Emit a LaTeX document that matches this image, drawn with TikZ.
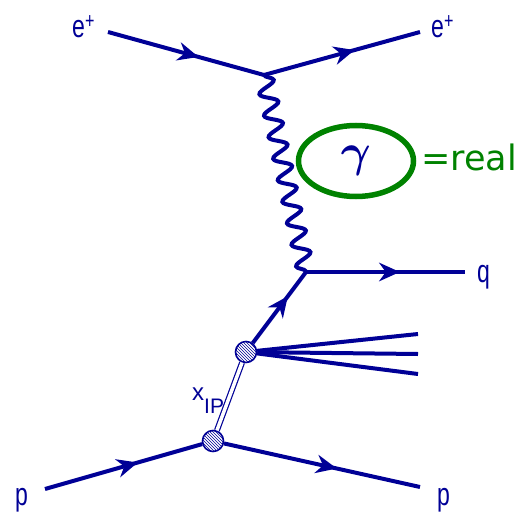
\documentclass[tikz,border=0pt]{standalone}
\usepackage{fontspec}
\setmainfont{Liberation Sans}
\newfontfamily\labelfont[FakeStretch=0.72]{Liberation Sans}
\newfontfamily\realfont{DejaVu Sans}
\usetikzlibrary{arrows.meta,decorations.markings,decorations.pathmorphing,patterns,shapes.geometric}
\definecolor{feyn}{RGB}{0,0,150}
\definecolor{realgreen}{RGB}{0,130,0}

\begin{document}
\begin{tikzpicture}[
  x=1pt,y=-1pt,
  fermion/.style={draw=feyn,line width=4pt,postaction={decorate,decoration={markings,mark=at position #1 with {\arrow[feyn]{Stealth[length=21pt,width=19pt,inset=7pt,line width=0pt]}}}}},
  fermion/.default=0.58,
  jet/.style={draw=feyn,line width=4pt},
  photon/.style={draw=feyn,line width=4pt,decorate,decoration={snake,amplitude=8.5pt,segment length=22pt}},
  pomeron/.style={draw=feyn,line width=1.2pt,double=white,double distance=3.5pt},
  blob/.style={circle,draw=feyn,line width=1.6pt,minimum size=21pt,inner sep=0pt,preaction={fill=white},pattern=north west lines,pattern color=feyn},
  particle/.style={text=feyn,inner sep=0pt,font=\labelfont\fontsize{32}{32}\selectfont},
  realbox/.style={ellipse,draw=realgreen,line width=5.5pt,minimum width=115pt,minimum height=71pt,inner sep=0pt,text=feyn}
]
\useasboundingbox (0,0) rectangle (529,513);
% vertices and free line ends
\coordinate (ein) at (108,32);
\coordinate (eout) at (420,32);
\coordinate (ev) at (264,75);
\coordinate (qv) at (306,272);
\coordinate (qend) at (465,272);
\coordinate (pin) at (45,489);
\coordinate (pout) at (420,487);
\coordinate (j1) at (418,334);
\coordinate (j2) at (418,354);
\coordinate (j3) at (418,374);
\node[blob] (b1) at (246,352) {};
\node[blob] (b2) at (213,441) {};
% lines
\draw[fermion] (ein) -- (ev);
\draw[fermion] (ev) -- (eout);
\draw[photon] (ev) -- (qv);
\draw[fermion=0.59] (qv) -- (qend);
\draw[fermion=0.66] (b1) -- (qv);
\draw[jet] (b1) -- (j1);
\draw[jet] (b1) -- (j2);
\draw[jet] (b1) -- (j3);
\draw[pomeron] (b1) -- (b2);
\draw[fermion=0.59] (pin) -- (b2);
\draw[fermion=0.575] (b2) -- (pout);
% labels
\node[particle,anchor=base west] (lein) at (72,38) {e\textsuperscript{+}};
\node[particle,anchor=base west] (leout) at (431,38) {e\textsuperscript{+}};
\node[particle,anchor=base west] (lq) at (477,282) {q};
\node[particle,anchor=base west] (lpin) at (15,505) {p};
\node[particle,anchor=base west] (lpout) at (437,505) {p};
\node[text=feyn,inner sep=0pt,anchor=base west,font=\fontsize{24}{24}\selectfont] (lx) at (192,400) {x\raisebox{-13pt}{\fontsize{21}{21}\selectfont IP}};
\node[realbox] (gam) at (356,161) {\scalebox{4.6}{\boldmath$\gamma$}};
\node[text=realgreen,inner sep=0pt,anchor=base west,font=\realfont\fontsize{35}{35}\selectfont] (lreal) at (421,170) {=real};
\end{tikzpicture}
\end{document}
